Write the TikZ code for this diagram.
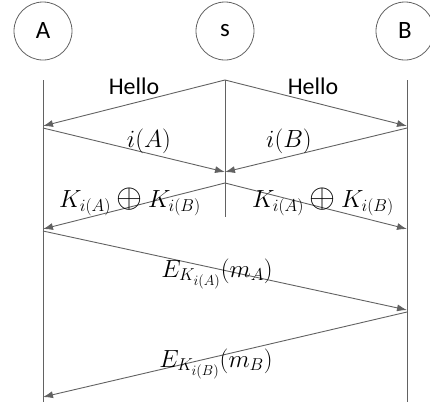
\documentclass[tikz,border=0pt]{standalone}
\usepackage{fontspec}
\setmainfont{Carlito}
\usetikzlibrary{arrows.meta}
\definecolor{lc}{HTML}{626262}
\DeclareMathSizes{24}{24}{18}{14}
\newcommand{\bigxor}{\mathbin{\scalebox{1.35}{$\oplus$}}}
\begin{document}
\begin{tikzpicture}[x=1bp,y=-1bp,
  party/.style={circle,draw=lc,line width=0.8bp,minimum size=58bp,inner sep=0pt,font=\fontsize{25}{29}\selectfont},
  life/.style={draw=lc,line width=0.9bp},
  msg/.style={draw=lc,line width=0.9bp,-{Latex[length=10bp,width=7bp]}},
  lbl/.style={anchor=base,inner sep=0pt,font=\fontsize{24}{28}\selectfont},
  mlbl/.style={anchor=base,inner sep=0pt,font=\fontsize{24}{28}\selectfont}]
\useasboundingbox (0,0) rectangle (430,415);
\node[party] (A) at (43,31) {A};
\node[party] (S) at (225,31) {s};
\node[party] (B) at (405,31) {B};
% lifelines
\coordinate (a0) at (43,80);  \coordinate (a1) at (43,402);
\coordinate (s0) at (225,80); \coordinate (s1) at (225,217);
\coordinate (b0) at (407,80); \coordinate (b1) at (407,402);
\draw[life] (a0) -- (a1);
\draw[life] (s0) -- (s1);
\draw[life] (b0) -- (b1);
% message points
\coordinate (a2) at (43,126);  \coordinate (b2) at (407,126);
\coordinate (a3) at (43,128);  \coordinate (b3) at (407,128);
\coordinate (s3) at (225,172);
\coordinate (s4) at (225,183);
\coordinate (a5) at (43,229);  \coordinate (b5) at (407,229);
\coordinate (a6) at (43,231);  \coordinate (b6) at (407,310);
\coordinate (b7) at (407,312); \coordinate (a7) at (43,397);
\draw[msg] (s0) -- (a2);
\draw[msg] (s0) -- (b2);
\draw[msg] (a3) -- (s3);
\draw[msg] (b3) -- (s3);
\draw[msg] (s4) -- (a5);
\draw[msg] (s4) -- (b5);
\draw[msg] (a6) -- (b6);
\draw[msg] (b7) -- (a7);
% labels
\node[lbl] (h1) at (134,94) {Hello};
\node[lbl] (h2) at (313,94) {Hello};
\node[mlbl] (ia) at (149,147) {$i(A)$};
\node[mlbl] (ib) at (289,147) {$i(B)$};
\node[mlbl] (k1) at (130,207) {$K_{i(A)}\bigxor K_{i(B)}$};
\node[mlbl] (k2) at (323,207) {$K_{i(A)}\bigxor K_{i(B)}$};
\node[mlbl] (ea) at (217,277) {$E_{K_{i(A)}}(m_A)$};
\node[mlbl] (eb) at (216,367) {$E_{K_{i(B)}}(m_B)$};
\end{tikzpicture}
\end{document}
